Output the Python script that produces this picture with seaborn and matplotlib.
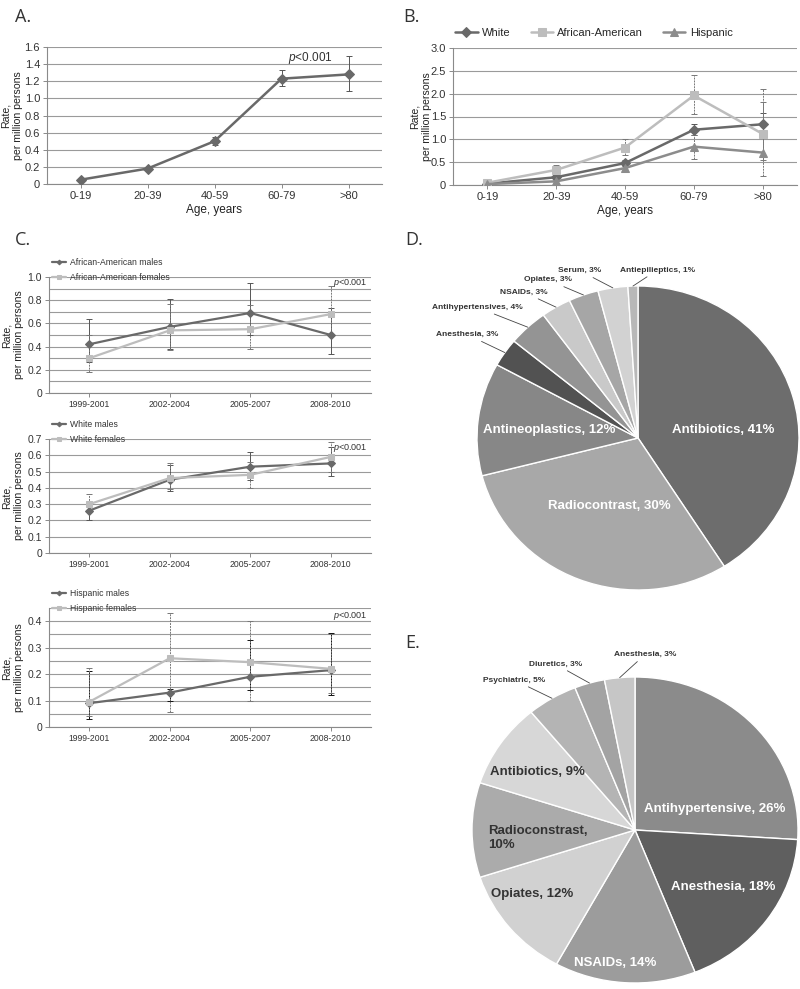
import numpy as np
import pandas as pd
import seaborn as sns
import matplotlib.pyplot as plt
from matplotlib.ticker import MultipleLocator, FuncFormatter

sns.set_theme(style="white")
plt.rcParams['font.family'] = ['Liberation Sans', 'DejaVu Sans']
plt.rcParams['mathtext.fontset'] = 'custom'
plt.rcParams['mathtext.it'] = 'Liberation Sans:italic'
plt.rcParams['mathtext.rm'] = 'Liberation Sans'

# ---- data ----
age_groups = ['0-19', '20-39', '40-59', '60-79', '>80']
all_rate = [0.05, 0.18, 0.50, 1.23, 1.28]
all_lo = [0.04, 0.16, 0.46, 1.14, 1.09]
all_hi = [0.06, 0.20, 0.55, 1.33, 1.50]

white_rate = [0.03, 0.17, 0.48, 1.21, 1.33]
white_lo = [0.02, 0.12, 0.42, 1.10, 1.10]
white_hi = [0.05, 0.22, 0.55, 1.33, 1.57]
aa_rate = [0.05, 0.33, 0.82, 1.96, 1.12]
aa_lo = [0.02, 0.22, 0.65, 1.55, 0.55]
aa_hi = [0.09, 0.44, 1.01, 2.40, 1.82]
hisp_rate = [0.02, 0.08, 0.37, 0.84, 0.71]
hisp_lo = [0.01, 0.04, 0.30, 0.57, 0.20]
hisp_hi = [0.04, 0.14, 0.45, 1.10, 2.10]

periods = ['1999-2001', '2002-2004', '2005-2007', '2008-2010']
aa_m = [0.42, 0.57, 0.69, 0.50]
aa_m_lo = [0.27, 0.38, 0.50, 0.34]
aa_m_hi = [0.64, 0.81, 0.95, 0.73]
aa_f = [0.30, 0.54, 0.55, 0.68]
aa_f_lo = [0.18, 0.37, 0.38, 0.50]
aa_f_hi = [0.50, 0.77, 0.76, 0.92]

wh_m = [0.26, 0.45, 0.53, 0.55]
wh_m_lo = [0.20, 0.38, 0.45, 0.47]
wh_m_hi = [0.31, 0.54, 0.62, 0.65]
wh_f = [0.30, 0.46, 0.48, 0.59]
wh_f_lo = [0.25, 0.39, 0.40, 0.50]
wh_f_hi = [0.36, 0.55, 0.56, 0.68]

hi_m = [0.09, 0.13, 0.19, 0.215]
hi_m_lo = [0.03, 0.10, 0.14, 0.12]
hi_m_hi = [0.21, 0.145, 0.33, 0.355]
hi_f = [0.095, 0.26, 0.245, 0.22]
hi_f_lo = [0.04, 0.055, 0.10, 0.13]
hi_f_hi = [0.225, 0.43, 0.40, 0.35]

d_labels = ['Antibiotics', 'Radiocontrast', 'Antineoplastics', 'Anesthesia',
            'Antihypertensives', 'NSAIDs', 'Opiates', 'Serum', 'Antiepilieptics']
d_pct = [41, 30, 12, 3, 4, 3, 3, 3, 1]
e_labels = ['Antihypertensive', 'Anesthesia', 'NSAIDs', 'Opiates', 'Radioconstrast',
            'Antibiotics', 'Psychiatric', 'Diuretics', 'Anesthesia']
e_pct = [26, 18, 14, 12, 10, 9, 5, 3, 3]

# ---- styles ----
DARK, LIGHT, MID = '#696969', '#bdbdbd', '#8c8c8c'
d_colors = ['#6d6d6d', '#a8a8a8', '#878787', '#525252', '#949494',
            '#c9c9c9', '#a6a6a6', '#d2d2d2', '#b8b8b8']
e_colors = ['#8b8b8b', '#5f5f5f', '#9c9c9c', '#d1d1d1', '#ababab',
            '#d7d7d7', '#b4b4b4', '#a3a3a3', '#c6c6c6']

W, H = 800, 989
fig = plt.figure(figsize=(8, 9.89), dpi=100)


def box(x0, y0, x1, y1):
    return [x0 / W, 1 - y1 / H, (x1 - x0) / W, (y1 - y0) / H]


def fmt0(v, pos):
    return '0' if abs(v) < 1e-9 else f'{v:.1f}'


def draw_series(ax, cats, rate, lo, hi, color, marker, ms, lw, ecolor, els, label=None):
    x = np.arange(len(cats))
    df = pd.DataFrame({'x': x, 'y': rate})
    sns.lineplot(data=df, x='x', y='y', ax=ax, color=color, marker=marker,
                 markersize=ms, markeredgecolor=color, linewidth=lw, label=label,
                 zorder=3)
    r = np.array(rate)
    eb = ax.errorbar(x, r, yerr=[r - np.array(lo), np.array(hi) - r], fmt='none',
                     ecolor=ecolor, elinewidth=0.7, capsize=2.5, capthick=0.7, zorder=2)
    eb[2][0].set_linestyle(els)


def style_axes(ax, cats, ylim, major, minor, tfs, yfs, label_x):
    ax.set_xlim(-0.5, len(cats) - 0.5)
    ax.set_xticks(np.arange(len(cats)))
    ax.set_xticklabels(cats)
    ax.set_ylim(*ylim)
    ax.yaxis.set_major_locator(MultipleLocator(major))
    ax.yaxis.set_minor_locator(MultipleLocator(minor))
    ax.yaxis.set_major_formatter(FuncFormatter(fmt0))
    ax.grid(False)
    ax.yaxis.grid(True, which='both', color='#9a9a9a', lw=0.8)
    ax.set_axisbelow(True)
    for s in ['top', 'right']:
        ax.spines[s].set_visible(False)
    for s in ['left', 'bottom']:
        ax.spines[s].set_color('#8a8a8a')
        ax.spines[s].set_linewidth(0.8)
    ax.tick_params(axis='both', which='major', bottom=True, left=True, direction='out',
                   length=3, width=0.7, color='#8a8a8a', labelcolor='#333333',
                   labelsize=tfs, pad=2)
    ax.tick_params(axis='y', which='major', labelsize=yfs)
    ax.set_xlabel('')
    ax.set_ylabel('Rate,\nper million persons', fontsize=7.6, color='#222222',
                  linespacing=1.3)
    ax.yaxis.set_label_coords(label_x, 0.5)


# ---- Panel A ----
axA = fig.add_axes(box(47, 47, 382, 184))
draw_series(axA, age_groups, all_rate, all_lo, all_hi, DARK, 'D', 5, 1.8, '#555555', '-')
style_axes(axA, age_groups, (0, 1.6), 0.2, 0.2, 8, 8, -23.5 / 335)
axA.set_xlabel('Age, years', fontsize=8.5, color='#222222', labelpad=2)
axA.text(0.785, 0.92, r'$\it{p}$<0.001', transform=axA.transAxes, ha='center',
         va='center', fontsize=8.5, color='#333333')

# ---- Panel B ----
axB = fig.add_axes(box(453, 48, 797, 185))
draw_series(axB, age_groups, white_rate, white_lo, white_hi, DARK, 'D', 5, 1.8, '#555555', '-', 'White')
draw_series(axB, age_groups, aa_rate, aa_lo, aa_hi, LIGHT, 's', 6, 1.8, '#777777', (0, (2, 1)), 'African-American')
draw_series(axB, age_groups, hisp_rate, hisp_lo, hisp_hi, MID, '^', 6, 1.8, '#777777', (0, (2, 1)), 'Hispanic')
style_axes(axB, age_groups, (0, 3.0), 0.5, 0.5, 8, 8, -21 / 344)
axB.set_xlabel('Age, years', fontsize=8.5, color='#222222', labelpad=2)
axB.legend(loc='center', bbox_to_anchor=(0.41, 1.11), ncol=3, frameon=False,
           fontsize=8, handlelength=2.0, columnspacing=1.8, handletextpad=0.4,
           borderaxespad=0, borderpad=0)

# ---- Panel C ----
c_panels = [
    (box(49, 277, 371, 393), (0, 1.0), 0.2, 0.1,
     ('African-American males', aa_m, aa_m_lo, aa_m_hi, '#555555', '-'),
     ('African-American females', aa_f, aa_f_lo, aa_f_hi, '#777777', (0, (2, 1))), 0.95),
    (box(49, 439, 371, 553), (0, 0.7), 0.1, 0.1,
     ('White males', wh_m, wh_m_lo, wh_m_hi, '#555555', '-'),
     ('White females', wh_f, wh_f_lo, wh_f_hi, '#777777', (0, (2, 1))), 0.92),
    (box(49, 608, 371, 727), (0, 0.45), 0.1, 0.05,
     ('Hispanic males', hi_m, hi_m_lo, hi_m_hi, '#111111', '-'),
     ('Hispanic females', hi_f, hi_f_lo, hi_f_hi, '#777777', (0, (2, 1))), 0.93),
]
for rect, ylim, major, minor, males, females, py in c_panels:
    ax = fig.add_axes(rect)
    draw_series(ax, periods, males[1], males[2], males[3], DARK, 'D', 4, 1.6, males[4], males[5], males[0])
    draw_series(ax, periods, females[1], females[2], females[3], LIGHT, 's', 5, 1.6, females[4], females[5], females[0])
    style_axes(ax, periods, ylim, major, minor, 6.2, 7.5, -25 / 322)
    ax.text(0.935, py, r'$\it{p}$<0.001', transform=ax.transAxes, ha='center',
            va='center', fontsize=6.5, color='#333333')
    ax.legend(loc='lower left', bbox_to_anchor=(0.01, 0.96), frameon=False,
              fontsize=6.2, handlelength=1.6, handletextpad=0.5, labelspacing=0.7,
              borderaxespad=0, borderpad=0, markerscale=0.6, labelcolor='#333333')


# ---- Pies ----
def pie_panel(rect, labels, pct, colors, big, small):
    ax = fig.add_axes(rect)
    wedges, _ = ax.pie(pct, colors=colors, startangle=90, counterclock=False,
                       wedgeprops=dict(edgecolor='white', linewidth=1.0))
    ax.set_aspect('auto')
    ax.set_xlim(-1, 1)
    ax.set_ylim(-1, 1)
    for i, (tx, ty, ha, tc) in big.items():
        txt = f'{labels[i]}, {pct[i]}%' if ha == 'center' else f'{labels[i]},\n{pct[i]}%'
        ax.text(tx, ty, txt, ha=ha, va='center', fontsize=9.5, fontweight='bold',
                color=tc, linespacing=1.2)
    for i, (tx, ty) in small.items():
        w = wedges[i]
        mid = np.deg2rad((w.theta1 + w.theta2) / 2)
        ax.annotate(f'{labels[i]}, {pct[i]}%', xy=(np.cos(mid) * 1.0, np.sin(mid) * 1.0),
                    xytext=(tx, ty), ha='center', va='center', fontsize=6,
                    fontweight='bold', color='#333333', annotation_clip=False,
                    arrowprops=dict(arrowstyle='-', color='#444444', lw=0.6,
                                    shrinkA=0, shrinkB=0))
    return ax


pie_panel(box(477, 286, 799, 590), d_labels, d_pct, d_colors,
          {0: (0.53, 0.05, 'center', 'white'), 1: (-0.18, -0.45, 'center', 'white'),
           2: (-0.55, 0.05, 'center', 'white')},
          {3: (-1.06, 0.68), 4: (-1.0, 0.86), 5: (-0.71, 0.96), 6: (-0.56, 1.04),
           7: (-0.36, 1.10), 8: (0.12, 1.105)})

pie_panel(box(472, 677, 798, 983), e_labels, e_pct, e_colors,
          {0: (0.49, 0.14, 'center', 'white'), 1: (0.54, -0.37, 'center', 'white'),
           2: (-0.12, -0.87, 'center', 'white'), 3: (-0.63, -0.42, 'center', '#333333'),
           4: (-0.90, -0.05, 'left', '#333333'), 5: (-0.60, 0.38, 'center', '#333333')},
          {6: (-0.74, 0.98), 7: (-0.49, 1.085), 8: (0.06, 1.145)})

# ---- panel letters ----
for letter, px, py in [('A.', 15, 8), ('B.', 403, 8), ('C.', 15, 231), ('D.', 405, 231), ('E.', 405, 634)]:
    fig.text(px / W, 1 - py / H, letter, ha='left', va='top', fontsize=13,
             color='#333333', family='Open Sans')

fig.savefig('out.png', dpi=100, facecolor='white')
